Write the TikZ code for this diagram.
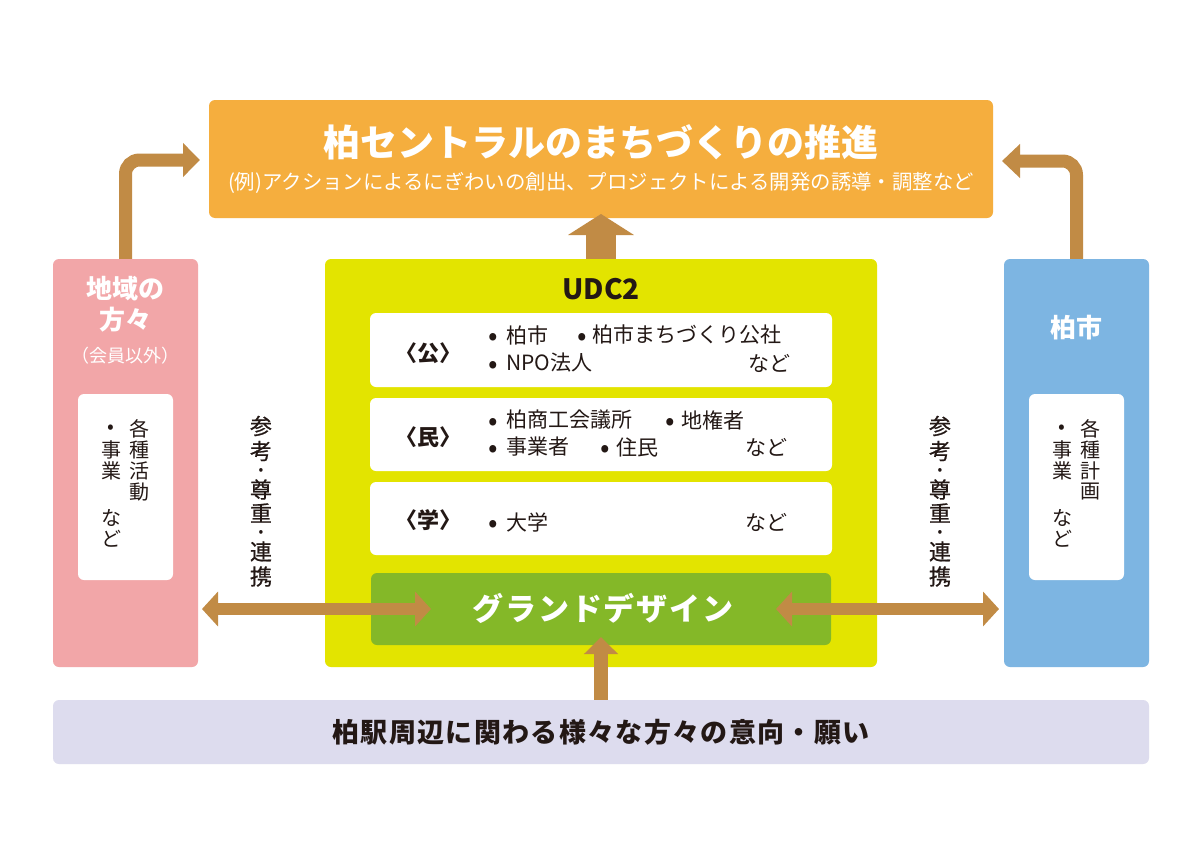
\documentclass[tikz,border=0pt]{standalone}
\usepackage{fontspec}
\setmainfont{Noto Sans CJK JP}
\usetikzlibrary{arrows.meta}
\definecolor{orangebox}{HTML}{F5AE3E}
\definecolor{pinkbox}{HTML}{F2A6A8}
\definecolor{bluebox}{HTML}{7DB5E2}
\definecolor{yellowbox}{HTML}{E3E400}
\definecolor{greenbox}{HTML}{84B828}
\definecolor{lavbox}{HTML}{DDDCEE}
\definecolor{arrowc}{HTML}{C18B45}
\definecolor{textc}{HTML}{231815}
\begin{document}
\begin{tikzpicture}[x=1pt,y=-1pt,
  box/.style={rounded corners=6pt, inner sep=0pt, draw=none},
  whitebox/.style={box, fill=white},
  fat/.style={draw=arrowc, line width=#1},
  itemtxt/.style={font=\fontsize{21}{24}\selectfont, text=textc, inner sep=0pt},
  bul/.style={font=\fontsize{28}{24}\selectfont, text=textc, inner sep=0pt},
  lbl/.style={font=\fontsize{22}{24}\selectfont\bfseries, text=textc, inner sep=0pt},
  vchar/.style={font=\fontsize{20}{21}\selectfont, text=textc, inner sep=0pt},
  vbul/.style={font=\fontsize{20}{21}\selectfont, text=textc, inner sep=0pt},
  vlink/.style={font=\fontsize{22}{24}\selectfont\addfontfeature{FakeBold=0.8}, text=textc, inner sep=0pt},
  vdot/.style={font=\fontsize{14}{16}\selectfont, text=textc, inner sep=0pt},
  wtitle/.style={font=\fontsize{26}{28}\selectfont\bfseries, text=white, inner sep=0pt}
]
\useasboundingbox (0,0) rectangle (1194,851);
\fill[white] (0,0) rectangle (1194,851);

% boxes
\node[box, fill=orangebox, minimum width=784pt, minimum height=118pt] (top) at (601,159) {};
\node[box, fill=pinkbox, minimum width=145pt, minimum height=408pt] (pink) at (125.5,463) {};
\node[box, fill=bluebox, minimum width=145pt, minimum height=408pt] (blue) at (1076.5,463) {};
\node[box, fill=yellowbox, minimum width=552pt, minimum height=408pt] (udc) at (601,463) {};
\node[whitebox, minimum width=462pt, minimum height=74pt] (row1) at (601,350) {};
\node[whitebox, minimum width=462pt, minimum height=73pt] (row2) at (601,434.5) {};
\node[whitebox, minimum width=462pt, minimum height=73pt] (row3) at (601,518.5) {};
\node[box, fill=greenbox, minimum width=460pt, minimum height=72pt] (gd) at (601,609) {};
\node[box, fill=lavbox, minimum width=1096pt, minimum height=64pt] (bottom) at (601,732) {};
\node[whitebox, minimum width=95pt, minimum height=186pt] (pinkin) at (125.5,487) {};
\node[whitebox, minimum width=95pt, minimum height=186pt] (bluein) at (1076.5,487) {};

% arrow end points
\coordinate (lt) at (200,160);
\coordinate (rt) at (1002,161);
\coordinate (ut) at (601,214);
\coordinate (gt) at (601,637);
\coordinate (la1) at (202,609);
\coordinate (la2) at (431,609);
\coordinate (ra1) at (776,609);
\coordinate (ra2) at (999,609);

% arrows
\draw[fat=13pt, rounded corners=14pt, -{Triangle[length=17pt,width=33pt]}] (pink.north) |- (lt);
\draw[fat=13pt, rounded corners=14pt, -{Triangle[length=18pt,width=33pt]}] (blue.north) |- (rt);
\draw[fat=30pt, -{Triangle[length=21pt,width=65pt]}] (udc.north) -- (ut);
\draw[fat=14pt, -{Triangle[length=17pt,width=33pt]}] (bottom.north) -- (gt);
\draw[fat=12pt, {Triangle[length=16pt,width=34pt]}-{Triangle[length=16pt,width=34pt]}] (la1) -- (la2);
\draw[fat=12pt, {Triangle[length=16pt,width=34pt]}-{Triangle[length=16pt,width=34pt]}] (ra1) -- (ra2);

% top texts
\node[font=\fontsize{37}{40}\selectfont\bfseries, text=white, inner sep=0pt] (title) at (601,142) {柏セントラルのまちづくりの推進};
\node[font=\fontsize{20.4}{22}\selectfont, text=white, inner sep=0pt] (subtitle) at (601,183) {(例)アクションによるにぎわいの創出、プロジェクトによる開発の誘導・調整など};

% left box texts
\node[wtitle] (pt1) at (125.5,289) {地域の};
\node[wtitle] (pt2) at (125.5,320) {方々};
\node[font=\fontsize{18}{20}\selectfont, text=white, inner sep=0pt] (pt3) at (125.5,356) {（会員以外）};
\foreach \c/\yy [count=\i] in {各/429, 種/450, 活/471, 動/492}
  \node[vchar] (pr\i) at (139,\yy) {\c};
\node[vbul] (pb) at (111,429) {•};
\foreach \c/\yy [count=\i] in {事/450, 業/471, な/518, ど/539}
  \node[vchar] (pl\i) at (111,\yy) {\c};

% right box texts
\node[wtitle] (bt1) at (1076.5,328) {柏市};
\foreach \c/\yy [count=\i] in {各/429, 種/450, 計/471, 画/492}
  \node[vchar] (br\i) at (1090,\yy) {\c};
\node[vbul] (bb) at (1062,429) {•};
\foreach \c/\yy [count=\i] in {事/450, 業/471, な/518, ど/539}
  \node[vchar] (bl\i) at (1062,\yy) {\c};

% link labels
\foreach \xx/\nm in {261/ll, 940/rl} {
  \foreach \c/\yy [count=\i] in {参/426, 考/451, 尊/489.5, 重/513, 連/551.5, 携/576.5}
    \node[vlink] (\nm\i) at (\xx,\yy) {\c};
  \node[vdot] (\nm d1) at (\xx,471) {•};
  \node[vdot] (\nm d2) at (\xx,533) {•};
}

% UDC2
\node[font=\fontsize{28}{30}\selectfont\bfseries, text=textc, inner sep=0pt] (udct) at (601,289) {UDC2};

% row 1
\node[lbl] (l1) at (428,353) {〈公〉};
\node[bul] (b11) at (493,339) {•};
\node[itemtxt, anchor=west] (i11) at (506,335) {柏市};
\node[bul] (b12) at (582,339) {•};
\node[itemtxt, anchor=west] (i12) at (592,335) {柏市まちづくり公社};
\node[bul] (b13) at (493,367) {•};
\node[itemtxt, anchor=west] (i13) at (506,363) {NPO法人};
\node[itemtxt, anchor=east] (n1) at (791,363) {など};

% row 2
\node[lbl] (l2) at (428,437) {〈民〉};
\node[bul] (b21) at (493,424) {•};
\node[itemtxt, anchor=west] (i21) at (506,420) {柏商工会議所};
\node[bul] (b22) at (670,424) {•};
\node[itemtxt, anchor=west] (i22) at (681,420) {地権者};
\node[bul] (b23) at (493,451) {•};
\node[itemtxt, anchor=west] (i23) at (506,447) {事業者};
\node[bul] (b24) at (605,451) {•};
\node[itemtxt, anchor=west] (i24) at (616,447) {住民};
\node[itemtxt, anchor=east] (n2) at (788,447) {など};

% row 3
\node[lbl] (l3) at (428,520) {〈学〉};
\node[bul] (b31) at (493,526) {•};
\node[itemtxt, anchor=west] (i31) at (506,522) {大学};
\node[itemtxt, anchor=east] (n3) at (788,522) {など};

% grand design
\node[font=\fontsize{31}{34}\selectfont\bfseries\addfontfeature{LetterSpace=6}, text=white, inner sep=0pt] (gdt) at (603,608) {グランドデザイン};

% bottom
\node[font=\fontsize{27}{30}\selectfont\bfseries\addfontfeature{LetterSpace=5}, text=textc, inner sep=0pt] (bt) at (601,732) {柏駅周辺に関わる様々な方々の意向・願い};
\end{tikzpicture}
\end{document}
